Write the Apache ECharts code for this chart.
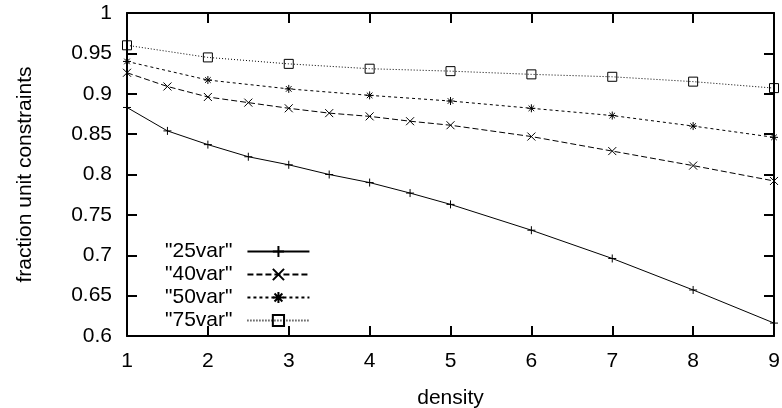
<!DOCTYPE html>
<html>
<head>
<meta charset="utf-8">
<script src="https://cdn.jsdelivr.net/npm/echarts@6/dist/echarts.min.js"></script>
<style>html,body{margin:0;padding:0;background:#fff;}#c{width:782px;height:408px;}</style>
</head>
<body>
<div id="c"></div>
<script>
var densityHalf = [1, 1.5, 2, 2.5, 3, 3.5, 4, 4.5, 5, 6, 7, 8, 9];
var densityInt = [1, 2, 3, 4, 5, 6, 7, 8, 9];
var var25 = [0.883, 0.854, 0.837, 0.822, 0.812, 0.800, 0.790, 0.777, 0.763, 0.731, 0.696, 0.657, 0.616];
var var40 = [0.926, 0.909, 0.896, 0.889, 0.882, 0.876, 0.872, 0.866, 0.861, 0.847, 0.829, 0.811, 0.792];
var var50 = [0.940, 0.917, 0.906, 0.898, 0.891, 0.882, 0.873, 0.860, 0.846];
var var75 = [0.960, 0.945, 0.937, 0.931, 0.928, 0.924, 0.921, 0.915, 0.907];
var seriesNames = ['"25var"', '"40var"', '"50var"', '"75var"'];

function pairs(xs, ys) { return xs.map(function (x, i) { return [x, ys[i]]; }); }

var plusPath = 'path://M0,5L10,5M5,0L5,10';
var xPath = 'path://M0,0L10,10M0,10L10,0';
var starPath = 'path://M0,5L10,5M5,0L5,10M1.5,1.5L8.5,8.5M1.5,8.5L8.5,1.5';
var rectPath = 'path://M0,0L10,0L10,10L0,10Z';

function mk(name, data, symbol, dash, size) {
  return {
    name: name, type: 'line', data: data, symbol: symbol, symbolSize: size,
    showSymbol: true,
    lineStyle: { color: '#000', width: 1, type: dash },
    itemStyle: { color: symbol === rectPath ? 'rgba(0,0,0,0)' : '#000', borderColor: '#000', borderWidth: 1 },
    emphasis: { disabled: true },
    animation: false
  };
}

var chart = echarts.init(document.getElementById('c'), null, { renderer: 'canvas' });
function axisLine() { return { show: true, lineStyle: { color: '#000', width: 2 } }; }
function tick() { return { show: true, inside: true, length: 10, lineStyle: { color: '#000', width: 2 } }; }
var fontFam = '"Liberation Sans", Arial, sans-serif';
var FS = 21;
chart.setOption({
  animation: false,
  backgroundColor: '#fff',
  grid: { left: 127, right: 8, top: 13, bottom: 72, containLabel: false, outerBoundsMode: 'none' },
  legend: {
    orient: 'vertical', left: 160, top: 236, align: 'right',
    itemWidth: 62, itemHeight: 14, itemGap: 2,
    textStyle: { fontSize: FS, color: '#000', fontFamily: fontFam, padding: [0, 10, 0, 0] },
    data: seriesNames
  },
  xAxis: [{
    type: 'value', min: 1, max: 9, interval: 1,
    name: 'density', nameLocation: 'middle', nameGap: 52,
    nameTextStyle: { fontSize: FS, color: '#000', fontFamily: fontFam },
    axisLine: axisLine(), axisTick: tick(), splitLine: { show: false },
    axisLabel: { fontSize: FS, color: '#000', margin: 15, fontFamily: fontFam }
  }, {
    type: 'value', min: 1, max: 9, interval: 1, position: 'top',
    axisLine: axisLine(), axisTick: tick(), splitLine: { show: false },
    axisLabel: { show: false }
  }],
  yAxis: [{
    type: 'value', min: 0.6, max: 1, interval: 0.05,
    name: 'fraction unit constraints', nameLocation: 'middle', nameGap: 91,
    nameTextStyle: { fontSize: FS, color: '#000', fontFamily: fontFam },
    axisLine: axisLine(), axisTick: tick(), splitLine: { show: false },
    axisLabel: { fontSize: FS, color: '#000', margin: 15, fontFamily: fontFam,
      formatter: function (v) { return String(Math.round(v * 100) / 100); } }
  }, {
    type: 'value', min: 0.6, max: 1, interval: 0.05, position: 'right',
    axisLine: axisLine(), axisTick: tick(), splitLine: { show: false },
    axisLabel: { show: false }
  }],
  series: [
    mk(seriesNames[0], pairs(densityHalf, var25), plusPath, 'solid', 8),
    mk(seriesNames[1], pairs(densityHalf, var40), xPath, [6, 3], 8),
    mk(seriesNames[2], pairs(densityInt, var50), starPath, [3, 3], 8),
    mk(seriesNames[3], pairs(densityInt, var75), rectPath, [1, 2], 9)
  ]
});
</script>
</body>
</html>
